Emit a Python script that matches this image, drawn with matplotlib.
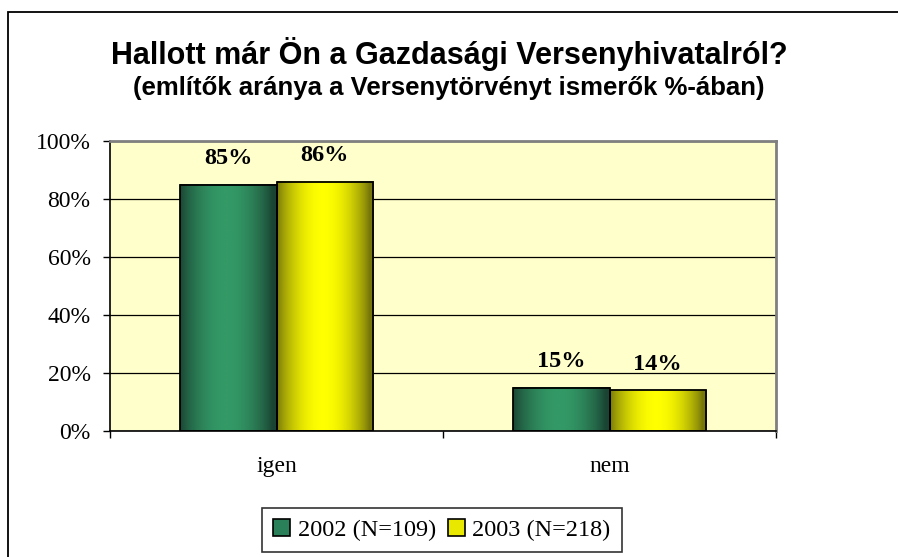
import matplotlib

matplotlib.use("Agg")
import matplotlib.pyplot as plt
import numpy as np
from matplotlib.colors import LinearSegmentedColormap
from matplotlib.patches import Patch, Rectangle

categories = ["igen", "nem"]
series_names = ["2002 (N=109)", "2003 (N=218)"]
values_2002 = [85, 15]
values_2003 = [86, 14]

SERIF = ["Liberation Serif", "DejaVu Serif"]
SANS = ["Liberation Sans", "DejaVu Sans"]

GREEN = LinearSegmentedColormap.from_list("green", ["#1a4433", "#339966"])
YELLOW = LinearSegmentedColormap.from_list("yellow", ["#77770a", "#ffff00"])


def gradient_fill(ax, bar, cmap) -> None:
    """Excel風の左右グラデーションを棒の中に描く。"""
    x0, y0 = bar.get_x(), bar.get_y()
    w, h = bar.get_width(), bar.get_height()
    t = np.linspace(0, 1, 200)
    shade = np.sin(np.pi * np.clip(t * 1.05, 0, 1)) ** 0.8
    ax.imshow(
        shade[np.newaxis, :],
        cmap=cmap,
        vmin=0,
        vmax=1,
        extent=(x0, x0 + w, y0, y0 + h),
        aspect="auto",
        interpolation="bilinear",
        zorder=2,
    )


fig = plt.figure(figsize=(8.98, 5.57), dpi=100)
ax = fig.add_axes([110 / 898, 1 - 431 / 557, 666 / 898, 290 / 557])
ax.set_facecolor("#ffffcc")

x = np.arange(len(categories))
width = 0.29
groups = [
    (values_2002, -width / 2, GREEN, "#2a8058"),
    (values_2003, width / 2, YELLOW, "#e8e800"),
]
handles = []
for (vals, offset, cmap, mid), name in zip(groups, series_names):
    bars = ax.bar(
        x + offset,
        vals,
        width,
        facecolor="none",
        edgecolor="black",
        linewidth=1.3,
        zorder=3,
    )
    for bar, v in zip(bars, vals):
        gradient_fill(ax, bar, cmap)
        ax.annotate(
            f"{v}%",
            (bar.get_x() + bar.get_width() / 2, v),
            xytext=(0, 11),
            textcoords="offset points",
            ha="center",
            va="bottom",
            fontsize=17.5,
            fontweight="bold",
            family=SERIF,
        )
    handles.append(Patch(facecolor=mid, edgecolor="black", linewidth=1.2, label=name))

ax.set_xlim(-0.5, 1.5)
ax.set_ylim(0, 100)
ax.set_yticks(np.arange(0, 101, 20))
ax.set_yticklabels([f"{v}%" for v in range(0, 101, 20)], family=SERIF, fontsize=17)
ax.yaxis.grid(True, color="black", linewidth=0.9, zorder=1)
ax.set_axisbelow(True)
ax.tick_params(axis="y", length=5, width=1, pad=9)

ax.set_xticks([-0.5, 0.5, 1.5])
ax.set_xticklabels([])
ax.set_xticks(x, minor=True)
ax.set_xticklabels(categories, minor=True, family=SERIF, fontsize=17)
ax.tick_params(axis="x", which="major", length=5, width=1)
ax.tick_params(axis="x", which="minor", length=0, pad=18)

for side in ("left", "bottom"):
    ax.spines[side].set_color("black")
    ax.spines[side].set_linewidth(1.2)
for side in ("top", "right"):
    ax.spines[side].set_color("#808080")
    ax.spines[side].set_linewidth(2)

fig.text(
    0.5,
    1 - 54 / 557,
    "Hallott már Ön a Gazdasági Versenyhivatalról?",
    ha="center",
    va="center",
    fontsize=22,
    fontweight="bold",
    family=SANS,
)
fig.text(
    0.5,
    1 - 88 / 557,
    "(említők aránya a Versenytörvényt ismerők %-ában)",
    ha="center",
    va="center",
    fontsize=18.5,
    fontweight="bold",
    family=SANS,
)

leg = fig.legend(
    handles=handles,
    loc="center",
    bbox_to_anchor=(442 / 898, 1 - 530 / 557),
    ncol=2,
    prop={"family": SERIF, "size": 17.5},
    frameon=True,
    fancybox=False,
    edgecolor="black",
    handlelength=0.7,
    handleheight=0.7,
    handletextpad=0.3,
    columnspacing=0.5,
    borderpad=0.45,
    borderaxespad=0,
)
leg.get_frame().set_linewidth(1.2)

# 図全体を囲む外枠（右・下は画像の外）
fig.patches.append(
    Rectangle(
        (8 / 898, -0.1),
        1.2,
        1.1 - 12 / 557,
        transform=fig.transFigure,
        fill=False,
        edgecolor="black",
        linewidth=1.3,
    )
)

fig.savefig("out.png", dpi=100, facecolor="white")
